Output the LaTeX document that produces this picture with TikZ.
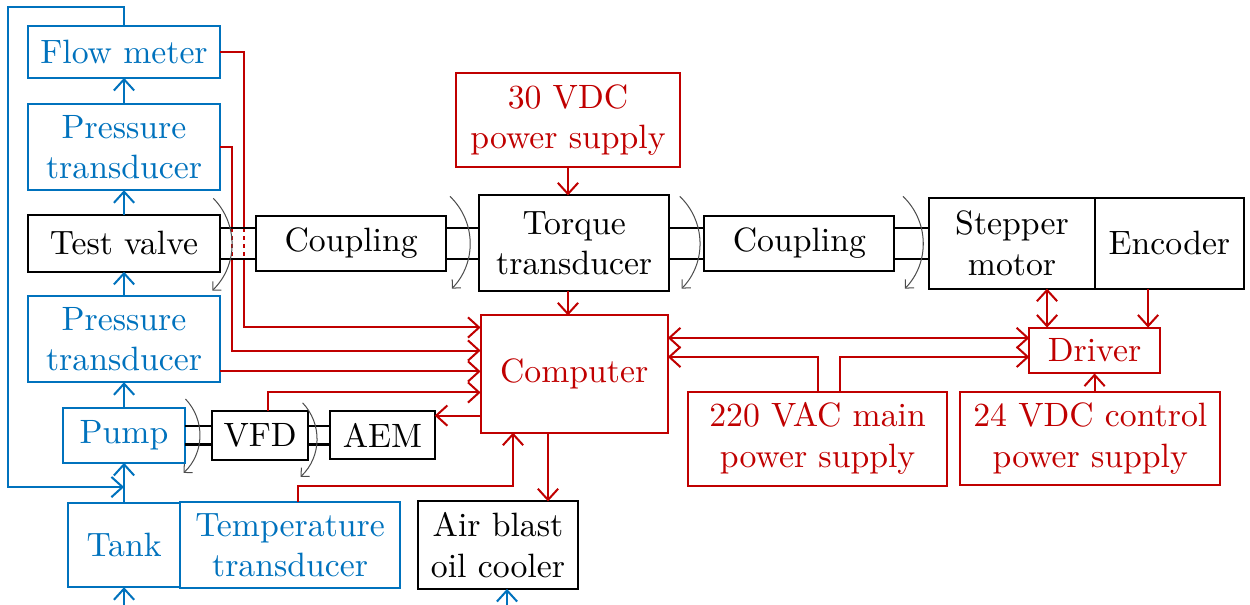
\documentclass[tikz,border=0pt]{standalone}
\usepackage{tikz}
\usetikzlibrary{arrows.meta,positioning,calc}
\definecolor{flowblue}{RGB}{0,114,189}
\definecolor{sigred}{RGB}{192,0,0}

\begin{document}
\begin{tikzpicture}[>={Straight Barb[length=3.3pt,width=6pt]}, semithick,
    mechbox/.style={rectangle, draw, align=center, outer sep=0pt, minimum height=0.57cm},
    hydbox/.style={mechbox, draw=flowblue, text=flowblue},
    elecbox/.style={mechbox, draw=sigred, text=sigred},
    flowline/.style={->, flowblue},
    sigline/.style={->, sigred},
    rotarrow/.style={gray!60!black, line width=0.3pt, -{Straight Barb[length=1.8pt,width=3.6pt]}}]
    \useasboundingbox (0,0) rectangle (13.02,-6.30);

    % hydraulic side
    \node [mechbox, minimum width=2cm, minimum height=0.59cm] (valve) at (1.292,-2.536) {Test valve};
    \node [hydbox, minimum width=2cm, minimum height=0.9cm, above=0.26cm of valve] (ptop) {Pressure\\transducer};
    \node [hydbox, minimum width=2cm, minimum height=0.54cm, above=0.27cm of ptop] (flow) {Flow meter};
    \node [hydbox, minimum width=2cm, minimum height=0.9cm, below=0.25cm of valve] (pbot) {Pressure\\transducer};
    \node [hydbox, minimum width=1.28cm, below=0.27cm of pbot] (pump) {Pump};
    \node [hydbox, minimum width=1.17cm, minimum height=0.875cm, below=0.42cm of pump] (tank) {Tank};
    \node [hydbox, minimum width=2.29cm, minimum height=0.875cm, right=0pt of tank] (temp) {Temperature\\transducer};
    \node [mechbox, minimum width=1.66cm, minimum height=0.875cm, right=0.19cm of temp] (cooler) {Air blast\\oil cooler};
    \node [mechbox, minimum width=0.99cm, minimum height=0.52cm, right=0.28cm of pump] (vfd) {VFD};
    \node [mechbox, minimum width=1.09cm, minimum height=0.5cm, right=0.23cm of vfd] (aem) {AEM};

    % drive train
    \node [mechbox, minimum width=1.98cm, right=0.375cm of valve] (coup1) {Coupling};
    \node [mechbox, minimum width=1.98cm, minimum height=1cm, right=0.344cm of coup1] (torque) {Torque\\transducer};
    \node [mechbox, minimum width=1.98cm, right=0.365cm of torque] (coup2) {Coupling};
    \node [mechbox, minimum width=1.72cm, minimum height=0.94cm, right=0.365cm of coup2] (stepper) {Stepper\\motor};
    \node [mechbox, minimum width=1.56cm, minimum height=0.94cm, right=0pt of stepper] (encoder) {Encoder};

    % electrical side
    \node [elecbox, minimum width=2.33cm, minimum height=0.92cm, above=0.3cm of torque, xshift=-0.065cm] (ps30) {30 VDC\\power supply};
    \node [elecbox, minimum width=1.95cm, minimum height=1.22cm, below=0.25cm of torque] (computer) {Computer};
    \node [elecbox, minimum width=1.36cm, minimum height=0.46cm, below=0.406cm of stepper.south east] (driver) {Driver};
    \node [elecbox, minimum width=2.71cm, minimum height=0.92cm, below=0.19cm of driver, xshift=-0.045cm] (dc24) {24 VDC control\\power supply};
    \node [elecbox, minimum width=2.7cm, minimum height=0.91cm, left=0.135cm of dc24] (ac220) {220 VAC main\\power supply};

    % oil circuit
    \coordinate (looptl) at (0.083,-0.073);
    \coordinate (loopin) at ($(tank.north)!0.4!(pump.south)$);
    \coordinate (tankfeed) at ([yshift=-0.19cm]tank.south);
    \coordinate (coolerfeed) at ([xshift=0.094cm,yshift=-0.19cm]cooler.south);
    \draw [flowline] (tank) -- (pump);
    \draw [flowline] (pump) -- (pbot);
    \draw [flowline] (pbot) -- (valve);
    \draw [flowline] (valve) -- (ptop);
    \draw [flowline] (ptop) -- (flow);
    \draw [flowline] (flow.north) |- (looptl) |- (loopin);
    \draw [flowline] (tankfeed) -- (tank.south);
    \draw [flowline] (coolerfeed) -- (coolerfeed |- cooler.south);

    % signals and power
    \coordinate (cin1) at ([yshift=-0.125cm]computer.north west);
    \coordinate (cin2) at ([yshift=-0.365cm]computer.north west);
    \coordinate (cin3) at ([yshift=-0.583cm]computer.north west);
    \coordinate (cin4) at ([yshift=-0.802cm]computer.north west);
    \coordinate (cout) at ([yshift=0.177cm]computer.south west);
    \coordinate (cbot) at ([xshift=-0.637cm]computer.south);
    \coordinate (cdown) at ([xshift=-0.273cm]computer.south);
    \coordinate (cdrv) at ([yshift=-0.234cm]computer.north east);
    \coordinate (cmain) at ([yshift=-0.432cm]computer.north east);
    \coordinate (stepio) at ([xshift=0.365cm]stepper.south);
    \coordinate (encout) at ([xshift=-0.223cm]encoder.south);
    \draw [sigline] (flow.east) -- ++(0.25,0) |- (cin1);
    \draw [sigline] (ptop.east) -- ++(0.125,0) |- (cin2);
    \draw [sigline] (pbot.east |- cin3) -- (cin3);
    \draw [sigline] ([xshift=0.085cm]vfd.north) |- (cin4);
    \draw [sigline] (cout) -- (cout -| aem.east);
    \draw [sigline] ([xshift=0.08cm]temp.north) -- ++(0,0.167) -| (cbot);
    \draw [sigline] (cdown) -- (cdown |- cooler.north);
    \draw [sigline] (ps30.south) -- (ps30.south |- torque.north);
    \draw [sigline] (torque.south -| ps30) -- (ps30 |- computer.north);
    \draw [sigred, <->] (cdrv) -- (cdrv -| driver.west);
    \draw [sigline] (ac220.north) |- (cmain);
    \draw [sigline] ([xshift=0.23cm]ac220.north) |- (cmain -| driver.west);
    \draw [sigred, <->] (stepio) -- (stepio |- driver.north);
    \draw [sigline] (encout) -- (encout |- driver.north);
    \draw [sigline] (driver.south |- dc24.north) -- (driver.south);

    % shafts
    \fill [white] ($(valve.east)+(0.4pt,0.16cm)$) rectangle ($(valve.east -| coup1.west)+(-0.4pt,-0.16cm)$);
    \foreach \x in {0.125,0.25}
        \draw [sigred, dash pattern=on 1.2pt off 1.2pt] ($(valve.east)+(\x cm,0.16cm)$) -- ($(valve.east)+(\x cm,-0.16cm)$);
    \foreach \a/\b in {valve/coup1,coup1/torque,torque/coup2,coup2/stepper}
        \draw ($(\a.east)+(0,0.16cm)$) -- ($(\a.east -| \b.west)+(0,0.16cm)$)
              ($(\a.east)+(0,-0.16cm)$) -- ($(\a.east -| \b.west)+(0,-0.16cm)$);
    \foreach \a/\b in {pump/vfd,vfd/aem}
        \draw ($(\a.east)+(0,0.094cm)$) -- ($(\a.east -| \b.west)+(0,0.094cm)$)
              ($(\a.east)+(0,-0.094cm)$) -- ($(\a.east -| \b.west)+(0,-0.094cm)$);

    % rotation marks
    \draw [rotarrow] ($(valve.east)+(-0.07,0.47)$) to[bend left=45] ($(valve.east)+(-0.08,-0.49)$);
    \draw [rotarrow] ($(coup1.east)+(0.04,0.49)$) to[bend left=45] ($(coup1.east)+(0.06,-0.47)$);
    \draw [rotarrow] ($(torque.east)+(0.11,0.49)$) to[bend left=45] ($(torque.east)+(0.13,-0.47)$);
    \draw [rotarrow] ($(coup2.east)+(0.09,0.49)$) to[bend left=45] ($(coup2.east)+(0.11,-0.47)$);
    \draw [rotarrow] ($(pump.east)+(0,0.38)$) to[bend left=45] ($(pump.east)+(-0.02,-0.39)$);
    \draw [rotarrow] ($(vfd.east)+(-0.056,0.34)$) to[bend left=45] ($(vfd.east)+(-0.077,-0.43)$);
\end{tikzpicture}
\end{document}
